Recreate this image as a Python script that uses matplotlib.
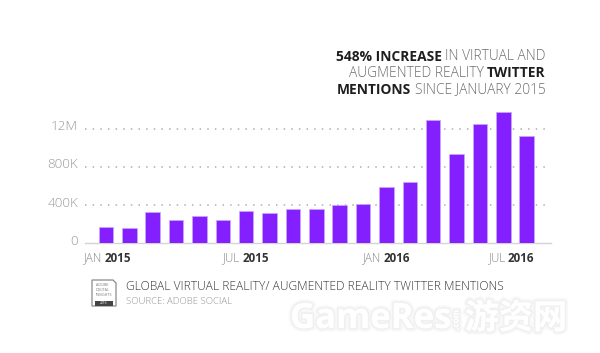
import matplotlib
matplotlib.use("Agg")
import matplotlib.pyplot as plt
import matplotlib.patheffects as pe
from matplotlib.patches import Rectangle, Polygon
from matplotlib.transforms import ScaledTranslation

W, H = 600, 353
months = list(range(19))
values_k = [175, 164, 325, 241, 286, 241, 339, 314, 363, 363, 398, 415, 590, 639, 1295, 935, 1246, 1372, 1120]
y_ticks = [0, 400, 800, 1200]
y_labels = ["0", "400K", "800K", "12M"]
x_ticks = [0, 6, 12, 18]
x_light = ["JAN", "JUL", "JAN", "JUL"]
x_bold = ["2015", "2015", "2016", "2016"]
title_lines = [[("548% INCREASE", True), (" IN VIRTUAL AND", False)],
               [("AUGMENTED REALITY ", False), ("TWITTER", True)],
               [("MENTIONS", True), (" SINCE JANUARY 2015", False)]]
caption = "GLOBAL VIRTUAL REALITY/ AUGMENTED REALITY TWITTER MENTIONS"
source = "SOURCE: ADOBE SOCIAL"

PURPLE = "#8420FF"
FONT = "Open Sans"
plt.rcParams["font.family"] = [FONT, "DejaVu Sans"]

fig = plt.figure(figsize=(W/100, H/100), dpi=100, facecolor="white")
left, right, base, top = 85, 550.7, 243.3, 100
ax = fig.add_axes([left/W, 1-base/H, (right-left)/W, (base-top)/H])
step = 23.37
ax.set_xlim((left-106)/step, (right-106)/step)
ax.set_ylim(0, (base-top)/38.2*400)
ax.set_facecolor("none")
ax.bar(months, values_k, width=0.62, color=PURPLE, edgecolor="#C9A6FF", linewidth=0.5, zorder=3)
for s in ["top", "right", "left"]:
    ax.spines[s].set_visible(False)
ax.spines["bottom"].set_color("#D4D4D4")
ax.spines["bottom"].set_linewidth(1)
ax.set_yticks(y_ticks, y_labels)
ax.set_xticks(x_ticks, [""]*4)
ax.tick_params(axis="both", length=0)
ax.tick_params(axis="y", pad=5, labelsize=9.6, labelcolor="#9A9A9A")
up = ScaledTranslation(0, 3.5/100, fig.dpi_scale_trans)
for t in ax.get_yticklabels():
    t.set_fontweight("light")
    t.set_transform(t.get_transform()+up)
for y in y_ticks[1:]:
    ax.hlines(y, ax.get_xlim()[0], (547-106)/step, colors="#AFAFAF", linewidth=1.1,
              linestyles=(0, (1, 4)), zorder=1)

r = fig.canvas.get_renderer()
def tw(t):
    return t.get_window_extent(r).width

def px(x, y):
    return x/W, 1-y/H

def run(parts, x, y, size, align="left", cl="#8A8A8A", cb="#1E1E1E"):
    objs = [fig.text(*px(x, y), s.strip(), fontsize=size, va="center", ha="left",
                     fontweight="bold" if b else "light", color=cb if b else cl)
            for s, b in parts]
    sp = size*0.26*100/72
    gaps = [sp]*(len(parts)-1) + [0]
    widths = [tw(o) for o in objs]
    total = sum(widths)+sum(gaps)
    cur = x-total if align == "right" else x-total/2 if align == "center" else x
    for o, w, g in zip(objs, widths, gaps):
        o.set_position(px(cur, y))
        cur += w+g

for i, yy in enumerate([57, 73.3, 90]):
    run(title_lines[i], 545.7, yy, 9.95, align="right", cl="#6E6E6E")

for m, l, b in zip(x_ticks, x_light, x_bold):
    cx = {0: 107, 6: 245.5, 12: 386, 18: 511}[m]
    run([(l+" ", False), (b, True)], cx, 258, 8.4, align="center", cl="#8A8A8A", cb="#333333")

fig.text(*px(126, 287), caption, fontsize=8.66, va="center", ha="left", fontweight="light", color="#3A3A3A")
fig.text(*px(126, 301), source, fontsize=6.8, va="center", ha="left", fontweight="light", color="#8F8F8F")

# badge
ov = fig.add_axes([0, 0, 1, 1], facecolor="none")
ov.set_xlim(0, W); ov.set_ylim(H, 0); ov.axis("off")
ov.add_patch(Polygon([(92, 280), (113, 280), (116, 283), (116, 306), (92, 306)], closed=True,
                     facecolor="white", edgecolor="#8A8A8A", linewidth=0.9))
ov.add_patch(Rectangle((95, 301), 18, 5, facecolor="#444444", edgecolor="none"))
for yy, s in zip([285, 290, 295], ["ADOBE", "DIGITAL", "INSIGHTS"]):
    ov.text(95.5, yy, s, fontsize=2.7, color="#777777", va="center", ha="left")
ov.text(104, 303.5, "2016", fontsize=2.4, color="white", va="center", ha="center")

# watermark
glow = [pe.withStroke(linewidth=5, foreground="#F8F8F8"),
        pe.withStroke(linewidth=2.5, foreground="#F0F0F0"), pe.Normal()]
ov.text(290, 319, "GameRes", fontsize=25, fontweight="bold", color="white", va="center", ha="left",
        path_effects=glow)
ov.text(456, 320, ".com", fontsize=6, fontweight="bold", color="white", va="center", ha="center", rotation=90,
        path_effects=glow)
ov.text(465, 318, "游资网", fontsize=24.5, fontweight="bold", color="white", va="center", ha="left",
        path_effects=glow, family=["Noto Sans CJK SC", "DejaVu Sans"])

fig.savefig("out.png", dpi=100, facecolor="white")
